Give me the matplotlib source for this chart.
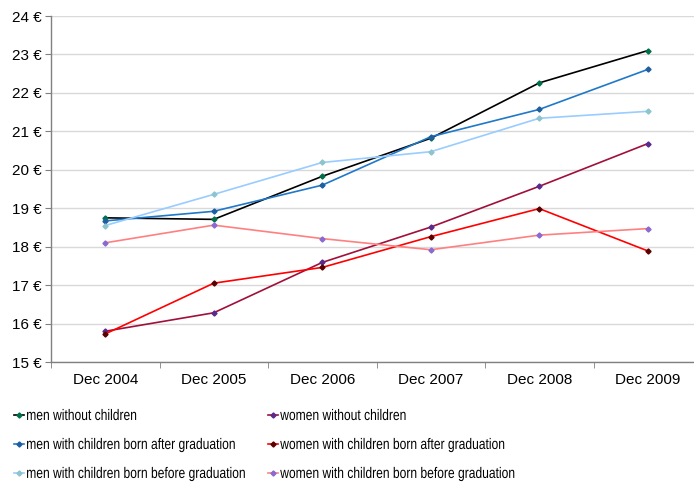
import matplotlib
matplotlib.use("Agg")
import matplotlib.pyplot as plt
from matplotlib import patheffects
from matplotlib.transforms import Affine2D

# hourly wages (EUR) by survey date
periods = ["Dec 2004", "Dec 2005", "Dec 2006", "Dec 2007", "Dec 2008", "Dec 2009"]

men_no_children = [18.75, 18.71, 19.83, 20.82, 22.26, 23.10]
men_after_grad = [18.67, 18.92, 19.60, 20.86, 21.57, 22.61]
men_before_grad = [18.55, 19.36, 20.19, 20.47, 21.34, 21.52]
women_no_children = [15.80, 16.28, 17.59, 18.51, 19.57, 20.68]
women_after_grad = [15.73, 17.05, 17.46, 18.26, 18.99, 17.89]
women_before_grad = [18.10, 18.56, 18.21, 17.92, 18.30, 18.47]

y_ticks = [15, 16, 17, 18, 19, 20, 21, 22, 23, 24]

series = [
    ("men without children", men_no_children, "#000000", "#00704A"),
    ("men with children born after graduation", men_after_grad, "#1F78C8", "#1F5FA0"),
    ("men with children born before graduation", men_before_grad, "#99CCFF", "#8EC4CC"),
    ("women without children", women_no_children, "#A0103A", "#5B2A8A"),
    ("women with children born after graduation", women_after_grad, "#FF0000", "#5A0000"),
    ("women with children born before graduation", women_before_grad, "#FF8080", "#8A6AD0"),
]


class Condense(patheffects.AbstractPathEffect):
    """squeeze glyphs horizontally (narrow legend font)"""

    def __init__(self, sx):
        super().__init__()
        self.sx = sx

    def draw_path(self, renderer, gc, tpath, affine, rgbFace=None):
        renderer.draw_path(gc, tpath, Affine2D().scale(self.sx, 1) + affine, rgbFace)


plt.rcParams["font.family"] = ["Liberation Sans", "DejaVu Sans"]

fig = plt.figure(figsize=(6.94, 4.83), dpi=100)
ax = fig.add_axes([51 / 694, 1 - 362 / 483, 651 / 694, 346 / 483])

x = list(range(len(periods)))
for label, vals, lc, mc in series:
    ax.plot(x, vals, color=lc, lw=1.2, marker="D", ms=2.6,
            markerfacecolor=mc, markeredgecolor=mc, label=label)

ax.set_xlim(-0.5, len(periods) - 0.5)
ax.set_ylim(15, 24)
ax.set_yticks(y_ticks)
ax.set_yticklabels([f"{v} €" for v in y_ticks])
ax.set_xticks(x)
ax.set_xticklabels(periods)
ax.set_xticks([i - 0.5 for i in range(len(periods) + 1)], minor=True)
ax.tick_params(axis="x", which="major", length=0, pad=8, labelsize=11)
ax.tick_params(axis="x", which="minor", length=4, color="#808080")
ax.tick_params(axis="y", length=4, color="#808080", labelsize=11, pad=3)

ax.grid(axis="y", color="#D9D9D9", lw=1)
ax.set_axisbelow(True)
for side in ["top", "right"]:
    ax.spines[side].set_visible(False)
for side in ["left", "bottom"]:
    ax.spines[side].set_color("#808080")
    ax.spines[side].set_linewidth(1)

# two legend columns: men on the left, women on the right
handles, labels = ax.get_legend_handles_labels()
for cols, x0 in [(slice(0, 3), 14), (slice(3, 6), 268)]:
    leg = fig.legend(handles[cols], labels[cols], loc="upper left",
                     bbox_to_anchor=(x0 / 694, 1 - 409 / 483), frameon=False,
                     fontsize=11, handlelength=0.65, handletextpad=0.15,
                     labelspacing=0.98, borderaxespad=0, borderpad=0)
    for t in leg.get_texts():
        t.set_path_effects([Condense(0.79)])

fig.savefig("out.png", dpi=100)
